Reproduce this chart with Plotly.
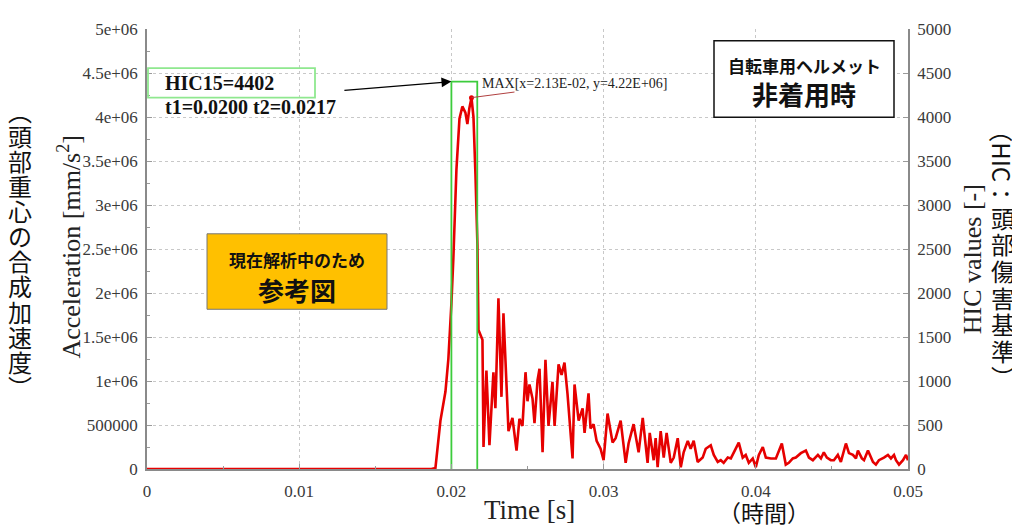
import plotly.graph_objects as go

# ---------------- data ----------------
time_s = [0.0, 0.01868, 0.01895, 0.01928, 0.01961, 0.01980, 0.02000, 0.02013, 0.02033, 0.02053,
          0.02072, 0.02092, 0.02105, 0.02118, 0.02132, 0.02145, 0.02158, 0.02171, 0.02178, 0.02204,
          0.02211, 0.02230, 0.02250, 0.02276, 0.02289, 0.02309, 0.02329, 0.02342, 0.02375, 0.02401,
          0.02428, 0.02447, 0.02467, 0.02487, 0.02500, 0.02513, 0.02533, 0.02546, 0.02566, 0.02579,
          0.02599, 0.02618, 0.02638, 0.02664, 0.02678, 0.02697, 0.02704, 0.02724, 0.02743, 0.02763,
          0.02796, 0.02809, 0.02836, 0.02862, 0.02875, 0.02901, 0.02914, 0.02934, 0.02954, 0.02980,
          0.03000, 0.03026, 0.03059, 0.03079, 0.03112, 0.03145, 0.03164, 0.03197, 0.03230, 0.03257,
          0.03289, 0.03303, 0.03329, 0.03342, 0.03355, 0.03375, 0.03395, 0.03414, 0.03441, 0.03461,
          0.03487, 0.03507, 0.03526, 0.03553, 0.03572, 0.03592, 0.03618, 0.03651, 0.03671, 0.03704,
          0.03724, 0.03750, 0.03770, 0.03789, 0.03816, 0.03836, 0.03855, 0.03888, 0.03914, 0.03934,
          0.03954, 0.03980, 0.04000, 0.04020, 0.04046, 0.04066, 0.04099, 0.04132, 0.04171, 0.04197,
          0.04217, 0.04243, 0.04263, 0.04296, 0.04329, 0.04349, 0.04375, 0.04408, 0.04428, 0.04447,
          0.04467, 0.04493, 0.04513, 0.04539, 0.04559, 0.04592, 0.04612, 0.04638, 0.04658, 0.04671,
          0.04697, 0.04711, 0.04737, 0.04770, 0.04789, 0.04809, 0.04842, 0.04868, 0.04888, 0.04908,
          0.04921, 0.04941, 0.04967, 0.04987, 0.05000]
accel_mm_s2_e6 = [0.0, 0.0, 0.01, 0.55, 0.88, 1.25, 1.88, 2.40, 3.40, 3.98,
                  4.12, 4.05, 3.92, 4.10, 4.22, 4.00, 3.35, 2.55, 1.58, 1.47,
                  0.25, 1.12, 0.27, 1.10, 0.69, 1.94, 0.82, 1.77, 0.43, 0.58,
                  0.21, 0.57, 0.49, 1.10, 0.77, 0.96, 0.80, 0.52, 1.01, 1.14,
                  0.19, 1.24, 0.49, 0.99, 0.49, 1.02, 1.19, 1.07, 1.21, 0.85,
                  0.12, 0.96, 0.55, 0.69, 0.41, 0.86, 0.46, 0.51, 0.32, 0.23,
                  0.10, 0.63, 0.30, 0.35, 0.55, 0.07, 0.29, 0.51, 0.19, 0.58,
                  0.07, 0.41, 0.10, 0.35, 0.02, 0.43, 0.13, 0.41, 0.07, 0.13,
                  0.35, 0.02, 0.19, 0.32, 0.23, 0.32, 0.08, 0.13, 0.23, 0.27,
                  0.16, 0.08, 0.10, 0.07, 0.13, 0.12, 0.18, 0.30, 0.13, 0.16,
                  0.07, 0.12, 0.02, 0.16, 0.25, 0.13, 0.12, 0.12, 0.29, 0.05,
                  0.07, 0.12, 0.13, 0.18, 0.21, 0.13, 0.10, 0.16, 0.12, 0.19,
                  0.13, 0.10, 0.10, 0.16, 0.08, 0.29, 0.18, 0.16, 0.12, 0.21,
                  0.12, 0.10, 0.21, 0.08, 0.05, 0.10, 0.13, 0.16, 0.12, 0.16,
                  0.10, 0.05, 0.10, 0.16, 0.10]
accel = [v * 1e6 for v in accel_mm_s2_e6]

t1 = 0.0200
t2 = 0.0217
hic15 = 4402

x_tickvals = [0, 0.01, 0.02, 0.03, 0.04, 0.05]
x_ticktext = ["0", "0.01", "0.02", "0.03", "0.04", "0.05"]
y_tickvals = [0, 5e5, 1e6, 1.5e6, 2e6, 2.5e6, 3e6, 3.5e6, 4e6, 4.5e6, 5e6]
y_ticktext = ["0", "500000", "1e+06", "1.5e+06", "2e+06", "2.5e+06", "3e+06",
              "3.5e+06", "4e+06", "4.5e+06", "5e+06"]
y2_tickvals = [0, 500, 1000, 1500, 2000, 2500, 3000, 3500, 4000, 4500, 5000]
y2_ticktext = [str(v) for v in y2_tickvals]

left_label_chars = list("︵頭部重心の合成加速度︶")
right_label_kanji = list("頭部傷害基準")

# ---------------- figure ----------------
SERIF = "Liberation Serif, Times New Roman, serif"
CJK = "Noto Sans CJK JP, Noto Sans, sans-serif"

fig = go.Figure()

# HIC window (green box on HIC axis)
fig.add_trace(go.Scatter(
    x=[t1, t1, t2, t2], y=[0, hic15, hic15, 0], yaxis="y2",
    mode="lines", line=dict(color="#3ccc3c", width=1.8),
    hoverinfo="skip", showlegend=False))

# acceleration curve
fig.add_trace(go.Scatter(
    x=time_s, y=accel, mode="lines",
    line=dict(color="#e60000", width=2.6),
    showlegend=False))

# peak marker
i_max = max(range(len(accel)), key=lambda i: accel[i])
t_peak, a_peak = time_s[i_max], accel[i_max]
fig.add_trace(go.Scatter(
    x=[t_peak], y=[a_peak], mode="markers",
    marker=dict(color="#e60000", size=5), showlegend=False))

axis_common = dict(
    showline=True, linecolor="#8a8a8a", linewidth=1.5,
    ticks="inside", ticklen=5, tickcolor="#9a9a9a",
    tickfont=dict(family=SERIF, size=17, color="#3a3a3a"),
    zeroline=False)

# page body has an 8px offset; plot area target on screen: x 147..908, y 20..469
fig.update_layout(
    width=1020, height=527,
    margin=dict(l=139, r=120, t=12, b=66),
    paper_bgcolor="white", plot_bgcolor="white",
    showlegend=False,
    xaxis=dict(range=[0, 0.05], tickvals=x_tickvals, ticktext=x_ticktext,
               showgrid=True, gridcolor="#c8c8c8", griddash="dot", gridwidth=1,
               minor=dict(ticks="inside", ticklen=3, dtick=0.005, tickcolor="#9a9a9a", showgrid=False),
               ticklabelstandoff=6,
               **axis_common),
    yaxis=dict(range=[0, 5e6], tickvals=y_tickvals, ticktext=y_ticktext,
               showgrid=True, gridcolor="#c8c8c8", griddash="dot", gridwidth=1,
               minor=dict(ticks="inside", ticklen=3, dtick=2.5e5, tickcolor="#9a9a9a", showgrid=False),
               ticklabelstandoff=4,
               **axis_common),
    yaxis2=dict(range=[0, 5000], overlaying="y", side="right",
                tickvals=y2_tickvals, ticktext=y2_ticktext, showgrid=False,
                ticklabelstandoff=4,
                **axis_common),
)

def px_x(px):
    return (px - 147) / 761.0

def px_y(py):
    return (469 - py) / 449.0

ann = []

def txt(text, sx, sy, size, family, color="#111", angle=0, xanchor="center"):
    ann.append(dict(text=text, x=px_x(sx), y=px_y(sy), xref="paper", yref="paper",
                    xanchor=xanchor, yanchor="middle", textangle=angle, showarrow=False,
                    font=dict(family=family, size=size, color=color)))

# axis titles
txt("Acceleration [mm/s<sup>2</sup>]", 70, 242, 26, SERIF, "#222", -90)
txt("HIC values [-]", 972, 255, 26, SERIF, "#222", -90)
txt("Time [s]", 529, 511, 27, SERIF, "#222")
txt("（時間）", 764, 513, 23, CJK)

# left vertical Japanese label
y0, step = 103, 25.6
for k, ch in enumerate(left_label_chars):
    txt(ch, 20, y0 + k * step, 24, CJK)

# right vertical Japanese label
txt("（HIC：", 1003, 156, 24, CJK, angle=90)
for k, ch in enumerate(right_label_kanji):
    txt(ch, 1003, 212 + k * 27.2, 24, CJK)
txt("︶", 1003, 375, 24, CJK)

# HIC15 text
txt("<b>HIC15=%d</b>" % hic15, 163, 75, 20, SERIF, xanchor="left")
txt("<b>t1=%.4f t2=%.4f</b>" % (t1, t2), 163, 100, 20, SERIF, xanchor="left")

# arrow to the HIC window
ann.append(dict(text=" ", x=t1, y=hic15, xref="x", yref="y2", ax=-110, ay=9,
                showarrow=True, arrowhead=2, arrowsize=1.8, arrowwidth=1.1, arrowcolor="#000"))

# MAX label and connector
ann.append(dict(text=" ", x=t_peak, y=a_peak, xref="x", yref="y", ax=46, ay=-6,
                showarrow=True, arrowhead=0, arrowwidth=1, arrowcolor="#b04040"))
txt("MAX[x=%.2E, y=%.2E]" % (t_peak, a_peak), 480, 76, 14, SERIF, "#222", xanchor="left")

# helmet box text
txt("<b>自転車用ヘルメット</b>", 804, 57, 17, CJK)
txt("<b>非着用時</b>", 804, 86, 26, CJK)

# orange box text
txt("<b>現在解析中のため</b>", 297, 255, 17, CJK)
txt("<b>参考図</b>", 297, 286, 26, CJK)

fig.update_layout(annotations=ann)

shapes = [
    dict(type="rect", xref="paper", yref="paper", x0=px_x(148), x1=px_x(315), y0=px_y(90), y1=px_y(60),
         line=dict(color="#8fe88f", width=1.8), fillcolor="rgba(0,0,0,0)"),
    dict(type="rect", xref="paper", yref="paper", x0=px_x(714), x1=px_x(894), y0=px_y(110), y1=px_y(32),
         line=dict(color="#111", width=1.5), fillcolor="white", layer="above"),
    dict(type="rect", xref="paper", yref="paper", x0=px_x(207), x1=px_x(387), y0=px_y(306), y1=px_y(229),
         line=dict(color="#777", width=1), fillcolor="#ffc000", layer="above"),
]
fig.update_layout(shapes=shapes)

fig.write_html("out.html")
